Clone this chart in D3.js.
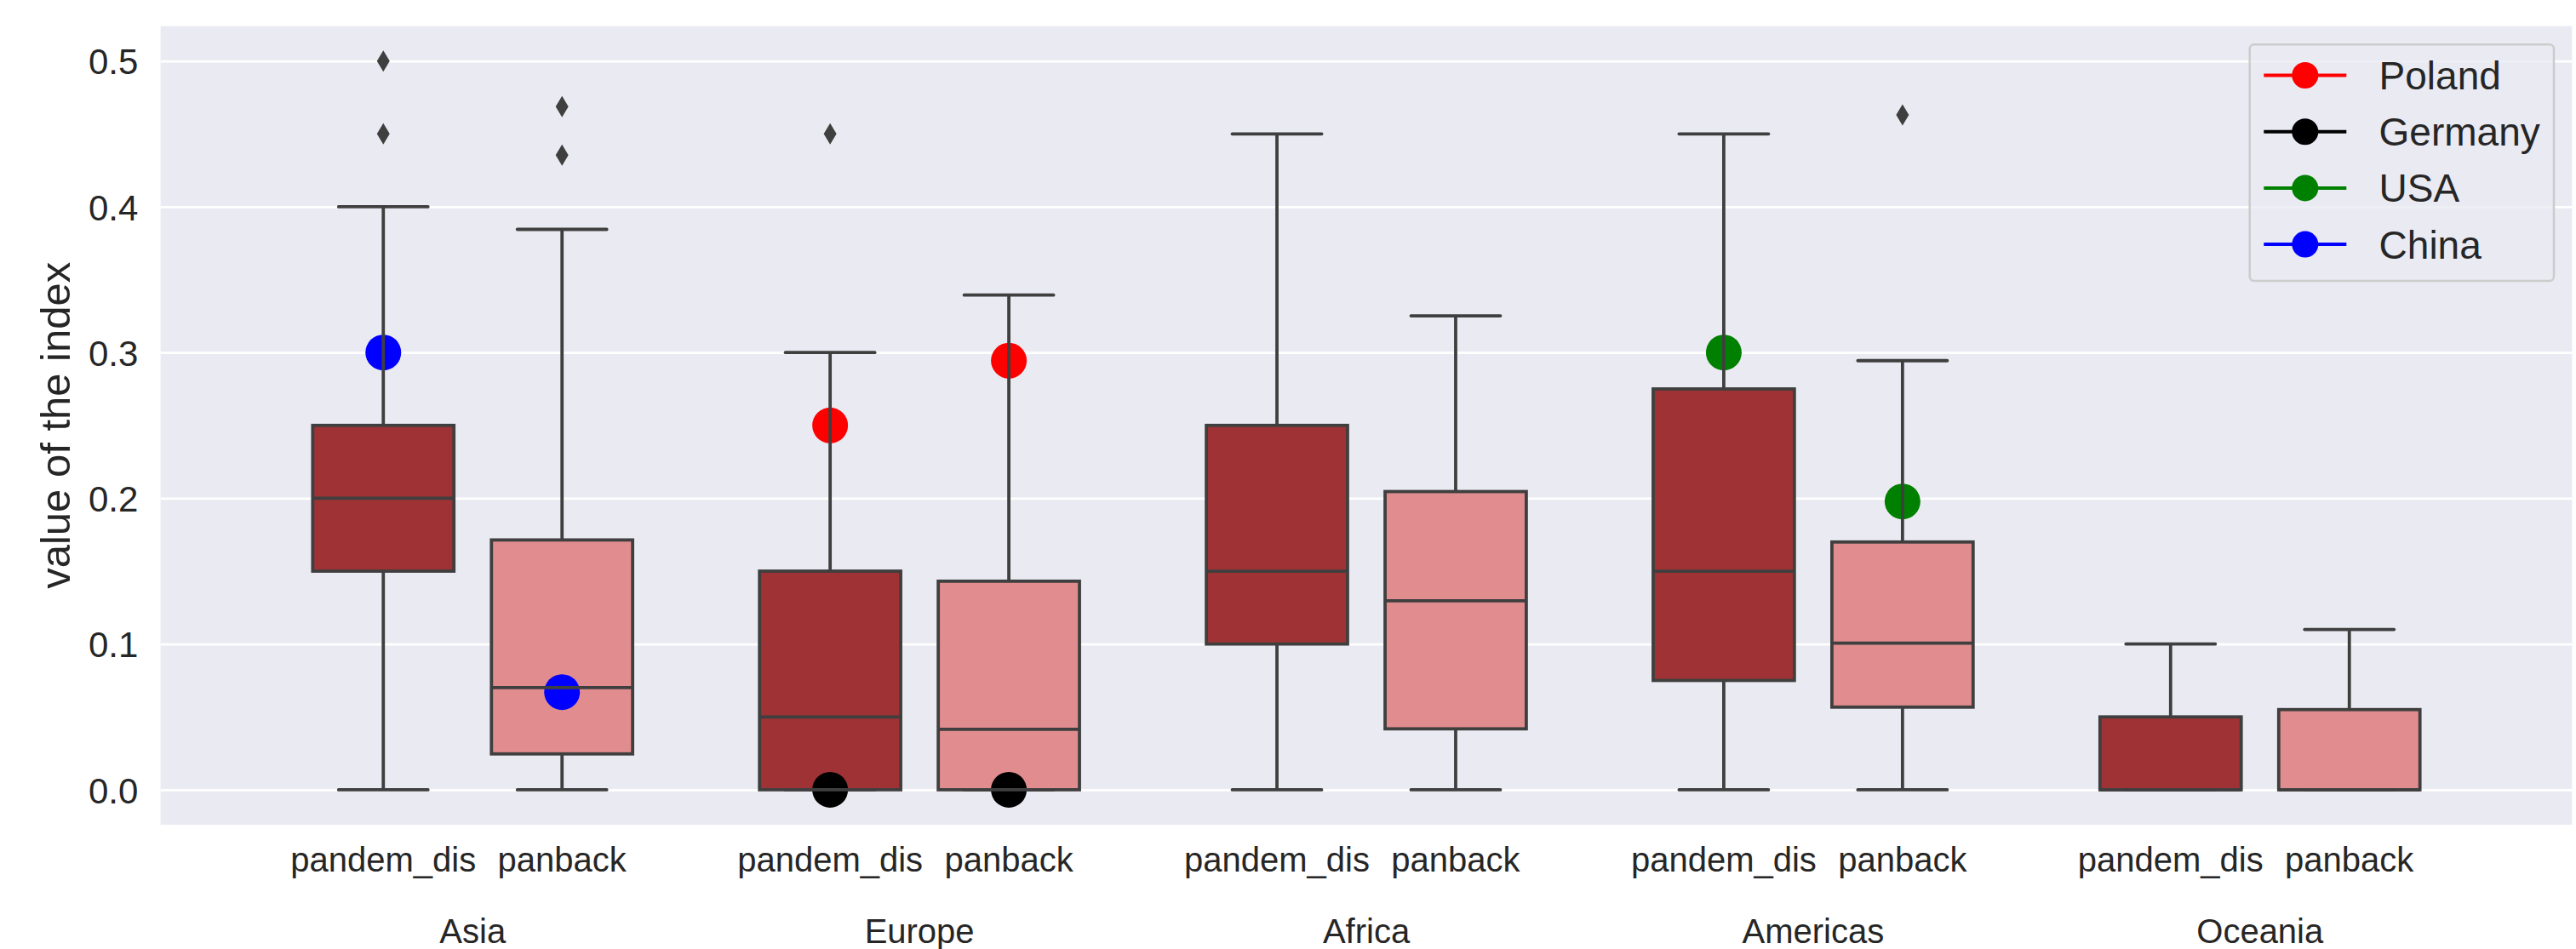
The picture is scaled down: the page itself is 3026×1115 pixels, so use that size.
<!DOCTYPE html>
<html>
<head>
<meta charset="utf-8">
<script src="https://cdn.jsdelivr.net/npm/d3@7"></script>
<style>
  html, body { margin: 0; padding: 0; background: #ffffff; }
  svg { display: block; }
  text { font-family: "Liberation Sans", Arial, sans-serif; fill: #262626; }
</style>
</head>
<body>
<svg id="chart" width="3026" height="1115"></svg>
<script>
// ---------------- data ----------------
const regions = ["Asia", "Europe", "Africa", "Americas", "Oceania"];
const measures = ["pandem_dis", "panback"];

const pandemWhiskLow  = [0, 0, 0, 0, 0];
const pandemQ1        = [0.15, 0, 0.10, 0.075, 0];
const pandemMedian    = [0.20, 0.05, 0.15, 0.15, 0];
const pandemQ3        = [0.25, 0.15, 0.25, 0.275, 0.05];
const pandemWhiskHigh = [0.40, 0.30, 0.45, 0.45, 0.10];
const pandemOutliers  = [[0.50, 0.45], [0.45], [], [], []];

const panbackWhiskLow  = [0, 0, 0, 0, 0];
const panbackQ1        = [0.0246, 0, 0.0418, 0.0567, 0];
const panbackMedian    = [0.0701, 0.0415, 0.1297, 0.1006, 0];
const panbackQ3        = [0.1714, 0.1431, 0.2046, 0.170, 0.055];
const panbackWhiskHigh = [0.3845, 0.3394, 0.3252, 0.2944, 0.110];
const panbackOutliers  = [[0.4687, 0.4355], [], [], [0.4631], []];

const countries       = ["Poland", "Germany", "USA", "China"];
const countryRegion   = ["Europe", "Europe", "Americas", "Asia"];
const countryPandem   = [0.25, 0, 0.30, 0.30];
const countryPanback  = [0.2944, 0, 0.1978, 0.067];

const yTicks = [0.0, 0.1, 0.2, 0.3, 0.4, 0.5];
const yLabel = "value of the index";

// ---------------- styles ----------------
const countryColors = ["#ff0000", "#000000", "#008000", "#0000ff"];
const boxColors = { pandem_dis: "#9f3234", panback: "#e18c8e" };
const lineColor = "#3f3f3f";

// ---------------- layout ----------------
const W = 3026, H = 1115;
const plot = { left: 188.6, right: 3021.4, top: 30.6, bottom: 969 };
const xPad = 104.2;

const svg = d3.select("#chart");
svg.append("rect").attr("width", W).attr("height", H).attr("fill", "#ffffff");

const x = d3.scaleBand().domain(regions)
  .range([plot.left + xPad, plot.right - xPad]).paddingInner(0).paddingOuter(0);
const bw = x.bandwidth();
const xs = d3.scaleBand().domain(measures).range([0.1 * bw, 0.9 * bw]);
const sbw = xs.bandwidth();
const boxW = sbw * 0.79;
const capW = sbw * 0.5;
const cx = (r, m) => x(r) + xs(m) + sbw / 2;

const y = d3.scaleLinear().domain([-0.024, 0.524]).range([plot.bottom, plot.top]);

// background
svg.append("rect")
  .attr("x", plot.left).attr("y", plot.top)
  .attr("width", plot.right - plot.left).attr("height", plot.bottom - plot.top)
  .attr("fill", "#eaeaf2");

// gridlines
const grid = svg.append("g").attr("transform", `translate(${plot.left},0)`)
  .call(d3.axisLeft(y).tickValues(yTicks).tickSize(-(plot.right - plot.left)).tickFormat(""));
grid.select(".domain").remove();
grid.selectAll("line").attr("stroke", "#ffffff").attr("stroke-width", 2.7);

// y axis labels
const yAxis = svg.append("g").attr("transform", `translate(${plot.left},0)`)
  .call(d3.axisLeft(y).tickValues(yTicks).tickFormat(d3.format(".1f")).tickSize(0).tickPadding(26.3));
yAxis.select(".domain").remove();
yAxis.selectAll("text")
  .attr("font-size", 42).attr("fill", "#262626")
  .attr("font-family", "Liberation Sans, Arial, sans-serif")
  .attr("dy", "0.36em");

svg.append("text")
  .attr("transform", `translate(81.7,${(plot.top + plot.bottom) / 2}) rotate(-90)`)
  .attr("text-anchor", "middle").attr("font-size", 49)
  .text(yLabel);

// build series
const series = {
  pandem_dis: { lo: pandemWhiskLow, q1: pandemQ1, med: pandemMedian, q3: pandemQ3, hi: pandemWhiskHigh, out: pandemOutliers },
  panback:    { lo: panbackWhiskLow, q1: panbackQ1, med: panbackMedian, q3: panbackQ3, hi: panbackWhiskHigh, out: panbackOutliers }
};
const boxes = [];
regions.forEach((r, i) => {
  measures.forEach(m => {
    const s = series[m];
    boxes.push({ region: r, measure: m, lo: s.lo[i], q1: s.q1[i], med: s.med[i], q3: s.q3[i], hi: s.hi[i], out: s.out[i] });
  });
});

const lw = 3.8;
// box rectangles
svg.append("g").selectAll("rect").data(boxes).join("rect")
  .attr("x", d => cx(d.region, d.measure) - boxW / 2)
  .attr("y", d => y(d.q3))
  .attr("width", boxW)
  .attr("height", d => Math.max(0, y(d.q1) - y(d.q3)))
  .attr("fill", d => boxColors[d.measure])
  .attr("stroke", lineColor).attr("stroke-width", lw);

// country points
const pts = [];
countries.forEach((c, i) => {
  pts.push({ c, color: countryColors[i], region: countryRegion[i], measure: "pandem_dis", v: countryPandem[i] });
  pts.push({ c, color: countryColors[i], region: countryRegion[i], measure: "panback", v: countryPanback[i] });
});
svg.append("g").selectAll("circle").data(pts).join("circle")
  .attr("cx", d => cx(d.region, d.measure))
  .attr("cy", d => y(d.v))
  .attr("r", 21)
  .attr("fill", d => d.color);

// whiskers, caps, medians
const lines = svg.append("g").attr("stroke", lineColor).attr("stroke-width", lw).attr("fill", "none");
boxes.forEach(d => {
  const c = cx(d.region, d.measure);
  if (d.hi > d.q3) lines.append("line").attr("x1", c).attr("x2", c).attr("y1", y(d.q3)).attr("y2", y(d.hi));
  if (d.lo < d.q1) lines.append("line").attr("x1", c).attr("x2", c).attr("y1", y(d.q1)).attr("y2", y(d.lo));
  lines.append("line").attr("x1", c - capW / 2).attr("x2", c + capW / 2).attr("y1", y(d.hi)).attr("y2", y(d.hi)).attr("stroke-linecap", "round");
  lines.append("line").attr("x1", c - capW / 2).attr("x2", c + capW / 2).attr("y1", y(d.lo)).attr("y2", y(d.lo)).attr("stroke-linecap", "round");
  lines.append("line").attr("x1", c - boxW / 2).attr("x2", c + boxW / 2).attr("y1", y(d.med)).attr("y2", y(d.med));
});

// outliers (thin diamonds)
const fl = [];
boxes.forEach(d => d.out.forEach(v => fl.push({ c: cx(d.region, d.measure), v })));
svg.append("g").selectAll("path").data(fl).join("path")
  .attr("d", d => {
    const X = d.c, Y = y(d.v), hw = 7.5, hh = 12.5;
    return `M${X},${Y - hh}L${X + hw},${Y}L${X},${Y + hh}L${X - hw},${Y}Z`;
  })
  .attr("fill", lineColor);

// x labels
const xl = svg.append("g");
boxes.forEach(d => {
  xl.append("text").attr("x", cx(d.region, d.measure)).attr("y", 1024)
    .attr("text-anchor", "middle").attr("font-size", 40).text(d.measure);
});
regions.forEach(r => {
  xl.append("text").attr("x", x(r) + bw / 2).attr("y", 1108)
    .attr("text-anchor", "middle").attr("font-size", 40).text(r);
});

// legend
const lg = svg.append("g");
lg.append("rect").attr("x", 2642.7).attr("y", 52.3).attr("width", 3000 - 2642.7).attr("height", 330 - 52.3)
  .attr("rx", 5).attr("fill", "#eaeaf2").attr("fill-opacity", 0.8)
  .attr("stroke", "#cccccc").attr("stroke-width", 2.5);
countries.forEach((c, i) => {
  const yy = 88.5 + i * 66.2;
  lg.append("line").attr("x1", 2659.3).attr("x2", 2756.3).attr("y1", yy).attr("y2", yy)
    .attr("stroke", countryColors[i]).attr("stroke-width", 4);
  lg.append("circle").attr("cx", 2707.8).attr("cy", yy).attr("r", 15.5).attr("fill", countryColors[i]);
  lg.append("text").attr("x", 2794.6).attr("y", yy + 16.5).attr("font-size", 46).text(c);
});
</script>
</body>
</html>
